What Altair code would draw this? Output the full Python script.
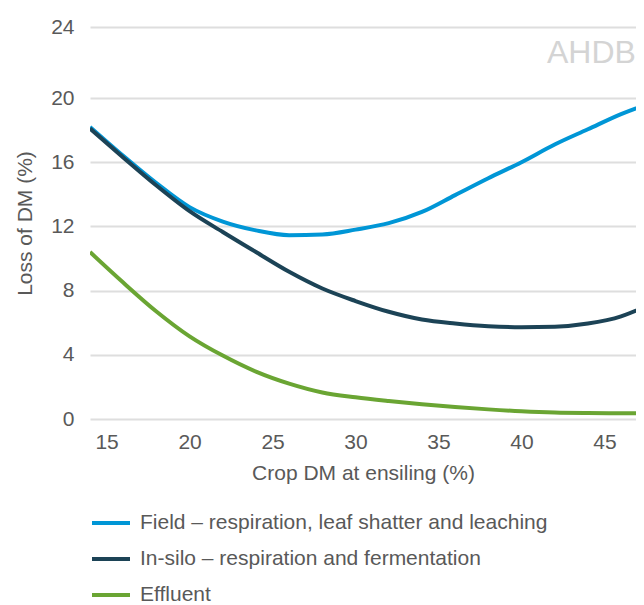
import altair as alt
import pandas as pd

# ---- data ----
crop_dm = [14, 16, 18, 20, 22, 24, 26, 28, 30, 32, 34, 36, 38, 40, 42, 44, 46, 48, 50]
field = [18.2, 16.4, 14.7, 13.2, 12.3, 11.75, 11.45, 11.5, 11.8, 12.2, 12.9, 13.95, 15.0, 16.0, 17.1, 18.05, 19.0, 19.75, 20.3]
in_silo = [18.1, 16.3, 14.55, 12.95, 11.65, 10.4, 9.17, 8.13, 7.35, 6.68, 6.2, 5.95, 5.78, 5.72, 5.75, 5.95, 6.4, 7.3, 8.6]
effluent = [10.4, 8.5, 6.7, 5.15, 3.95, 2.95, 2.2, 1.65, 1.35, 1.12, 0.92, 0.75, 0.6, 0.48, 0.4, 0.37, 0.36, 0.35, 0.35]

series_names = [
    "Field – respiration, leaf shatter and leaching",
    "In-silo – respiration and fermentation",
    "Effluent",
]
series_colors = ["#0096d6", "#1c4356", "#6aa533"]
x_ticks = [15, 20, 25, 30, 35, 40, 45]
y_ticks = [0, 4, 8, 12, 16, 20, 24]
logo_text = ["AHDB"]

rows = []
for name, vals in zip(series_names, [field, in_silo, effluent]):
    for x, v in zip(crop_dm, vals):
        rows.append({"dm": x, "loss": v, "series": name})
df = pd.DataFrame(rows)

FONT = "Liberation Sans"
GRAY = "#595959"

lines = alt.Chart(df).mark_line(strokeWidth=4, interpolate="monotone", clip=True).encode(
    x=alt.X(
        "dm:Q",
        scale=alt.Scale(domain=[14, 46.9], nice=False, zero=False),
        axis=alt.Axis(
            values=x_ticks, title="Crop DM at ensiling (%)", grid=False, ticks=False,
            domain=False, labelPadding=12, titlePadding=10,
        ),
    ),
    y=alt.Y(
        "loss:Q",
        scale=alt.Scale(domain=[0, 20, 24], range=[392, 71, 0], nice=False),
        axis=alt.Axis(
            values=y_ticks, title="Loss of DM (%)", grid=True, ticks=False,
            domain=False, labelPadding=16, titlePadding=15,
        ),
    ),
    color=alt.Color(
        "series:N",
        scale=alt.Scale(domain=series_names, range=series_colors),
        legend=alt.Legend(
            title=None, orient="none", legendX=0, legendY=475, direction="vertical",
            symbolType="stroke", symbolSize=1444, symbolStrokeWidth=4,
            labelFontSize=21, labelColor=GRAY, labelFont=FONT, labelLimit=700,
            rowPadding=5, labelOffset=8, padding=0,
        ),
    ),
)

logo = alt.Chart(pd.DataFrame({"t": logo_text})).mark_text(
    align="left", baseline="alphabetic", fontSize=32, color="#d4d4d4", font=FONT
).encode(x=alt.value(457), y=alt.value(36), text="t:N")

chart = alt.layer(lines, logo).properties(
    width=546,
    height=392,
    autosize=alt.AutoSizeParams(type="none"),
    padding={"left": 82, "top": 19, "right": 0, "bottom": 200},
).configure_view(stroke=None).configure_axis(
    labelFont=FONT, titleFont=FONT, labelFontSize=21, titleFontSize=21,
    labelColor=GRAY, titleColor=GRAY, titleFontWeight="normal",
    gridColor="#dedede", gridWidth=2,
)

chart.save("out.html", embed_options={"renderer": "svg", "actions": False})
